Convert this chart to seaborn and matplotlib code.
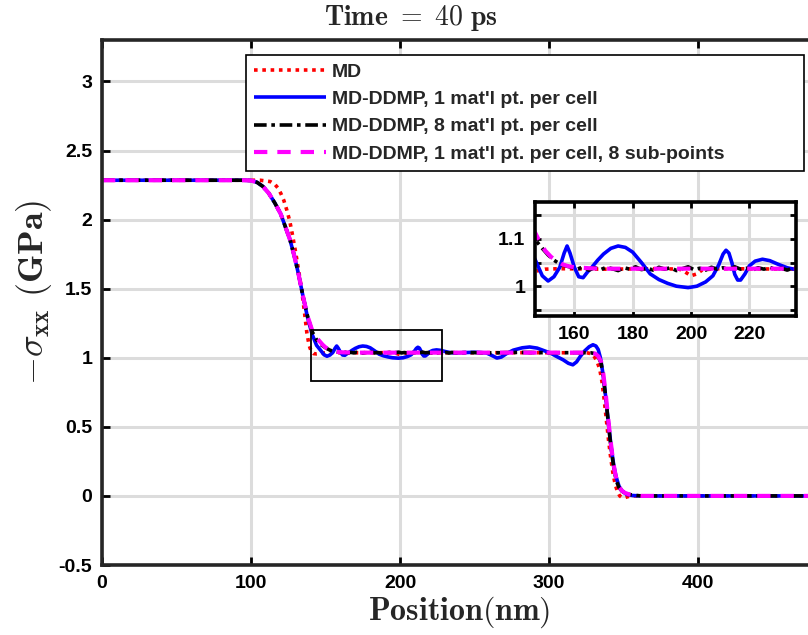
import matplotlib
matplotlib.use("Agg")
import matplotlib.pyplot as plt
import seaborn as sns
import pandas as pd
from matplotlib.patches import Rectangle

# ---------------- data ----------------
red_x = [0, 50, 100, 106, 110, 113, 116, 118, 120, 122,
         124, 126, 128, 130, 132, 134, 136, 137.5, 139, 140.5,
         142, 144, 147, 150, 155, 170, 190, 196, 198, 200,
         202, 204, 210, 240, 280, 320, 326, 328, 330, 332,
         334, 335.5, 337, 338.5, 340, 341.5, 343, 344.5, 346, 347.5,
         349, 351, 353, 356, 400, 450, 500]
red_y = [2.285, 2.285, 2.285, 2.285, 2.28, 2.275, 2.255, 2.23, 2.19, 2.14,
         2.07, 1.99, 1.88, 1.76, 1.63, 1.49, 1.32, 1.18, 1.09, 1.045,
         1.03, 1.028, 1.032, 1.036, 1.037, 1.036, 1.037, 1.036, 1.03, 1.022,
         1.026, 1.035, 1.037, 1.036, 1.037, 1.036, 1.035, 1.03, 1.015, 0.98,
         0.92, 0.83, 0.7, 0.55, 0.4, 0.27, 0.16, 0.08, 0.03, 0.0,
         -0.012, -0.012, -0.005, 0.0, 0.0, 0.0, 0.0]

blue_x = [0, 50, 95, 100, 104, 108, 112, 116, 120, 123,
          126, 129, 132, 135, 138, 141, 144, 147, 149, 151,
          153, 155, 156.5, 157.5, 158.5, 160, 161.5, 163, 164.5, 166,
          168, 170, 172.5, 175, 177.5, 180, 183, 186, 189, 192,
          195, 199, 202, 205, 207.5, 209.5, 211, 212, 213, 214,
          215, 216, 217, 218.5, 220, 222, 224.5, 227, 230, 233,
          236, 240, 250, 258, 262, 265, 268, 271.5, 276, 282,
          287, 292, 297, 301, 305, 309.5, 313, 316, 318.5, 321,
          324, 327, 329.5, 331.5, 333, 334.5, 336, 337.5, 339, 340.5,
          342, 343.5, 345, 347, 349, 352, 356, 362, 400, 450,
          500]
blue_y = [2.285, 2.285, 2.285, 2.283, 2.27, 2.24, 2.19, 2.12, 2.04, 1.95,
          1.86, 1.74, 1.6, 1.44, 1.29, 1.17, 1.09, 1.05, 1.022, 1.011,
          1.02, 1.04, 1.07, 1.085, 1.07, 1.04, 1.02, 1.018, 1.03, 1.04,
          1.055, 1.068, 1.08, 1.085, 1.082, 1.072, 1.05, 1.026, 1.014, 1.006,
          1.0, 0.997, 1.0, 1.009, 1.022, 1.045, 1.068, 1.076, 1.07, 1.05,
          1.025, 1.013, 1.013, 1.026, 1.043, 1.053, 1.057, 1.054, 1.046, 1.039,
          1.035, 1.036, 1.04, 1.035, 1.015, 0.998, 1.005, 1.03, 1.055, 1.072,
          1.078, 1.07, 1.05, 1.034, 1.01, 0.985, 0.96, 0.949, 0.97, 1.01,
          1.05, 1.08, 1.094, 1.085, 1.06, 1.0, 0.9, 0.77, 0.62, 0.47,
          0.33, 0.22, 0.14, 0.07, 0.035, 0.012, 0.003, 0.0, 0.0, 0.0,
          0.0]

black_x = [0, 50, 95, 100, 104, 108, 112, 116, 120, 123,
           126, 129, 132, 135, 138, 141, 144, 147, 149, 151,
           153, 155, 157, 159,
           161, 163, 165, 167, 169, 171, 173, 175, 177, 179,
           181, 183, 185, 187, 189, 191, 193, 195, 197, 199,
           201, 203, 205, 207, 209, 211, 213, 215, 217, 219,
           221, 223, 225, 227, 229, 231, 233, 235, 237,
           245, 260, 280, 300, 320, 328, 331, 333, 335, 336.5,
           338, 339.5, 341, 342.5, 344, 345.5, 347, 349, 351, 354,
           358, 362, 400, 450, 500]
black_y = [2.285, 2.285, 2.285, 2.283, 2.27, 2.24, 2.19, 2.12, 2.04, 1.95,
           1.86, 1.74, 1.6, 1.44, 1.3, 1.19, 1.13, 1.095, 1.08, 1.066,
           1.055, 1.047, 1.043, 1.04,
           1.036, 1.041, 1.034, 1.039, 1.035, 1.040, 1.037, 1.033, 1.039, 1.036,
           1.041, 1.035, 1.038, 1.034, 1.040, 1.036, 1.039, 1.033, 1.037, 1.041,
           1.035, 1.038, 1.034, 1.040, 1.036, 1.039, 1.035, 1.041, 1.036, 1.038,
           1.034, 1.039, 1.036, 1.040, 1.035, 1.038, 1.034, 1.039, 1.036,
           1.038, 1.035, 1.039, 1.036, 1.037, 1.036, 1.03, 1.01, 0.96, 0.86,
           0.72, 0.56, 0.41, 0.28, 0.17, 0.1, 0.06, 0.035, 0.022, 0.01,
           0.004, 0.0, 0.0, 0.0, 0.0]

mag_x = [0, 50, 95, 100, 104, 108, 112, 116, 120, 123,
         126, 129, 132, 135, 138, 141, 144, 146, 148, 150,
         152, 154, 156, 158, 160, 165, 170, 200, 240, 280,
         320, 328, 331, 333, 335, 336.5, 338, 339.5, 341, 342.5,
         344, 345.5, 347, 349, 351, 354, 358, 362, 400, 450,
         500]
mag_y = [2.285, 2.285, 2.285, 2.283, 2.27, 2.24, 2.19, 2.12, 2.04, 1.95,
         1.86, 1.74, 1.6, 1.44, 1.3, 1.2, 1.145, 1.12, 1.095, 1.075,
         1.062, 1.053, 1.046, 1.042, 1.04, 1.038, 1.037, 1.037, 1.037, 1.037,
         1.037, 1.036, 1.03, 1.012, 0.97, 0.88, 0.745, 0.585, 0.43, 0.295,
         0.185, 0.11, 0.065, 0.037, 0.022, 0.01, 0.004, 0.0, 0.0, 0.0,
         0.0]

labels = ["MD",
          "MD-DDMP, 1 mat'l pt. per cell",
          "MD-DDMP, 8 mat'l pt. per cell",
          "MD-DDMP, 1 mat'l pt. per cell, 8 sub-points"]

main_xticks = [0, 100, 200, 300, 400]
main_yticks = [-0.5, 0, 0.5, 1, 1.5, 2, 2.5, 3]
main_yticklabels = ["-0.5", "0", "0.5", "1", "1.5", "2", "2.5", "3"]
inset_xticks = [160, 180, 200, 220]
inset_yticks = [0.95, 1.0, 1.05, 1.1, 1.15]
inset_yticklabels = ["", "1", "", "1.1", ""]
zoom_box = (140, 0.83, 88, 0.37)  # x0, y0, width, height in data units

assert len(red_x) == len(red_y)
assert len(blue_x) == len(blue_y)
assert len(black_x) == len(black_y)
assert len(mag_x) == len(mag_y)

# ---------------- style ----------------
sns.set_theme(style="whitegrid")
plt.rcParams["font.family"] = ["Liberation Sans", "DejaVu Sans"]
plt.rcParams["font.weight"] = "bold"
plt.rcParams["mathtext.fontset"] = "cm"

W, H = 808, 635
fig = plt.figure(figsize=(W / 100, H / 100), dpi=100)
fig.patch.set_facecolor("white")

series = [
    (red_x, red_y, dict(color="#ff0000", linestyle=(0, (1.0, 1.3)), lw=2.6)),
    (blue_x, blue_y, dict(color="#0000ff", linestyle="-", lw=2.6)),
    (black_x, black_y, dict(color="black", linestyle=(0, (3.5, 1.3, 1.0, 1.3)), lw=2.6)),
    (mag_x, mag_y, dict(color="#ff00ff", linestyle=(0, (3.2, 2.4)), lw=3.0)),
]

SPINE = "#262626"
GRID = "#dcdcdc"


def style_axes(a, lw_spine, ticklen):
    a.set_facecolor("white")
    a.grid(True, color=GRID, lw=2.2)
    for s in a.spines.values():
        s.set_visible(True)
        s.set_color(SPINE)
        s.set_linewidth(lw_spine)
    a.tick_params(direction="in", length=ticklen, width=2, colors="black",
                  top=True, right=True, bottom=True, left=True,
                  labelsize=14, pad=7)
    for t in a.get_xticklabels() + a.get_yticklabels():
        t.set_fontweight("bold")


# ---------------- main axes ----------------
ax = fig.add_axes([102 / W, 1 - 565 / H, 745 / W, 525 / H])
for (xs, ys, kw), lab in zip(series, labels):
    sns.lineplot(x=xs, y=ys, ax=ax, estimator=None, sort=False, label=lab,
                 solid_capstyle="butt", dash_capstyle="butt", **kw)
ax.set_xlim(0, 500)
ax.set_ylim(-0.5, 3.3)
ax.set_xticks(main_xticks)
ax.set_xticklabels([str(v) for v in main_xticks])
ax.set_yticks(main_yticks)
ax.set_yticklabels(main_yticklabels)
ax.set_xlabel("")
ax.set_ylabel("")
style_axes(ax, 2.6, 6)

ax.add_patch(Rectangle((zoom_box[0], zoom_box[1]), zoom_box[2], zoom_box[3],
                       fill=False, edgecolor="black", lw=1.3, zorder=5))

leg = ax.legend(loc="upper left",
                bbox_to_anchor=(246 / W, 1 - 173 / H, 558 / W, 118 / H),
                bbox_transform=fig.transFigure, mode="expand",
                frameon=True, fancybox=False,
                framealpha=1, edgecolor="black", handlelength=3.7,
                prop=dict(weight="bold", size=14), labelspacing=0.5,
                borderpad=0.42, handletextpad=0.3, borderaxespad=0)
leg.get_frame().set_linewidth(1.2)

# ---------------- inset ----------------
ins = fig.add_axes([535 / W, 1 - 316 / H, 261 / W, 114 / H])
for xs, ys, kw in series:
    sns.lineplot(x=xs, y=ys, ax=ins, estimator=None, sort=False,
                 legend=False, **kw)
ins.set_xlim(146.5, 236)
ins.set_ylim(0.937, 1.178)
ins.set_xticks(inset_xticks)
ins.set_xticklabels([str(v) for v in inset_xticks])
ins.set_yticks(inset_yticks)
ins.set_yticklabels(inset_yticklabels)
ins.set_xlabel("")
ins.set_ylabel("")
style_axes(ins, 2.6, 4)
for s in ins.spines.values():
    s.set_color("black")

# ---------------- texts ----------------
fig.text(411 / W, 1 - 18 / H, r"$\mathbf{Time}\ \mathbf{=}\ \mathbf{40\ ps}$",
         ha="center", va="center", fontsize=20)
fig.text(459 / W, 1 - 612 / H, r"$\mathbf{Position(nm)}$", ha="center",
         va="center", fontsize=23)
fig.text(34 / W, 1 - 292 / H, r"$-\sigma_{\mathbf{xx}}\ \mathbf{(GPa)}$",
         ha="center", va="center", rotation=90, fontsize=26)

fig.savefig("out.png", dpi=100, facecolor="white")
